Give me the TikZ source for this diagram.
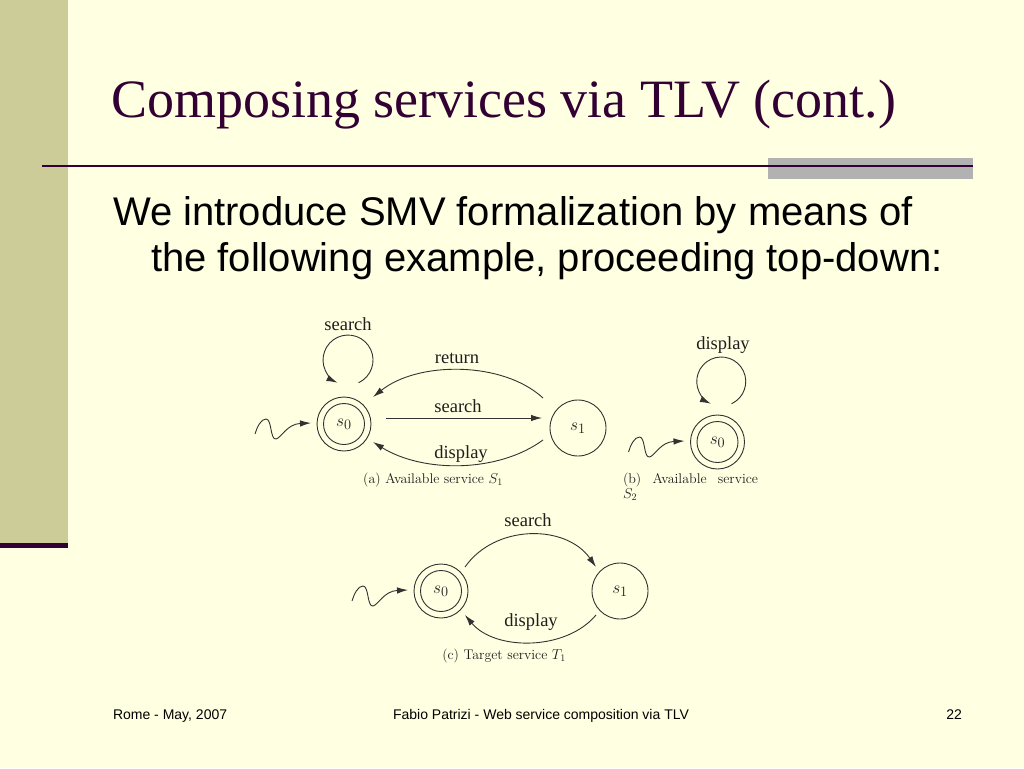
\documentclass[tikz,border=0pt]{standalone}
\usepackage{fontspec}
\newfontfamily\tnr{Liberation Serif}
\newfontfamily\arial{Liberation Sans}
\usetikzlibrary{arrows.meta}
\definecolor{bg}{RGB}{255,255,226}
\definecolor{barc}{RGB}{204,204,153}
\definecolor{plum}{RGB}{51,0,51}
\definecolor{grayb}{RGB}{178,178,178}
\definecolor{lc}{RGB}{50,50,50}
\definecolor{tc}{RGB}{30,30,30}
\newcommand\initarrow[2]{%
  \begin{scope}[shift={(#1)}]
    \draw[arr] (0,0) .. controls (2,-7) and (6,-15) .. (11,-15)
      .. controls (17,-15) and (15,6) .. (21,5)
      .. controls (26,4) and (32,-10) .. ([shift={(-33,-1)}]#2.center);
  \end{scope}}
\begin{document}
\begin{tikzpicture}[x=1pt,y=-1pt,
  every node/.style={inner sep=0pt,outer sep=0pt},
  st/.style={circle,draw=lc,line width=0.9pt,minimum size=56pt,font=\fontsize{19}{19}\selectfont,text=tc},
  acc/.style={circle,draw=lc,line width=0.9pt,minimum size=54pt,font=\fontsize{19}{19}\selectfont,text=tc,
    path picture={\draw[lc,line width=0.9pt] (path picture bounding box.center) circle[radius=20.5pt];}},
  arr/.style={draw=lc,line width=0.9pt,-{Latex[length=11pt,width=6.5pt]}},
  lab/.style={font=\tnr\fontsize{18.5}{18.5}\selectfont,text=tc},
  capt/.style={font=\fontsize{14}{16}\selectfont,text=tc},
  foot/.style={font=\arial\fontsize{14}{16}\selectfont,anchor=base}]
% background and slide decoration
\fill[bg] (0,0) rectangle (1024,768);
\fill[barc] (0,0) rectangle (68,543);
\fill[plum] (0,543) rectangle (68,548);
\fill[grayb] (768,158) rectangle (973,179);
\draw[plum,line width=2.5pt] (42,166) -- (973,166);
% title and text
\node[anchor=base west,text=plum,font=\tnr\fontsize{54}{54}\selectfont] (title) at (111,117) {Composing services via TLV (cont.)};
\node[anchor=base west,font=\arial\fontsize{40}{40}\selectfont] (l1) at (113,225) {We introduce SMV formalization by means of};
\node[anchor=base west,font=\arial\fontsize{40}{40}\selectfont] (l2) at (151,271) {the following example, proceeding top-down:};
% footer
\node[foot,anchor=base west] (f1) at (113,719) {Rome - May, 2007};
\node[foot] (f2) at (541,719) {Fabio Patrizi - Web service composition via TLV};
\node[foot,anchor=base east] (f3) at (962,719) {22};
% ---------- (a) ----------
\node[acc] (s0a) at (344,424) {$s_0$};
\node[st] (s1a) at (578,428) {$s_1$};
\coordinate (ia) at ([shift={(-89,10)}]s0a.center);
\initarrow{ia}{s0a}
\draw[arr] ([shift={(14.6,-41.3)}]s0a.center) arc[start angle=65, end angle=-245, radius=25];
\draw[arr] ([shift={(-35,-30)}]s1a.center) .. controls +(-40,-37) and +(45,-36) .. ([shift={(29,-27)}]s0a.center);
\draw[arr] ([shift={(42,-6)}]s0a.center) -- ([shift={(-36,-10)}]s1a.center);
\draw[arr] ([shift={(-35,12)}]s1a.center) .. controls +(-45,33) and +(50,31) .. ([shift={(29,18)}]s0a.center);
\node[lab] (la1) at (348,324) {search};
\node[lab] (la2) at (457,358) {return};
\node[lab] (la3) at (458,406) {search};
\node[lab] (la4) at (461,454) {display};
\node[capt] (capa) at (433,480) {(a) Available service $S_1$};
% ---------- (b) ----------
\node[acc] (s0b) at (717.5,442) {$s_0$};
\coordinate (ib) at ([shift={(-89,10)}]s0b.center);
\initarrow{ib}{s0b}
\draw[arr] ([shift={(14.1,-38.3)}]s0b.center) arc[start angle=65, end angle=-245, radius=24.5];
\node[lab] (lb1) at (723,345) {display};
\node[capt,anchor=north west,align=left] (capb) at (623,473) {\hbox to 135pt{(b)\hfil Available\hfil service}\\[-1pt]$S_2$};
% ---------- (c) ----------
\node[acc] (s0c) at (441,591) {$s_0$};
\node[st] (s1c) at (620,591) {$s_1$};
\coordinate (ic) at ([shift={(-89,10)}]s0c.center);
\initarrow{ic}{s0c}
\draw[arr] ([shift={(24,-24)}]s0c.center) .. controls +(30,-43) and +(-30,-43) .. ([shift={(-24,-24)}]s1c.center);
\draw[arr] ([shift={(-24,24)}]s1c.center) .. controls +(-30,36) and +(30,36) .. ([shift={(24,24)}]s0c.center);
\node[lab] (lc1) at (528,520) {search};
\node[lab] (lc2) at (531,622) {display};
\node[capt] (capc) at (504,656) {(c) Target service $T_1$};
\end{tikzpicture}
\end{document}
